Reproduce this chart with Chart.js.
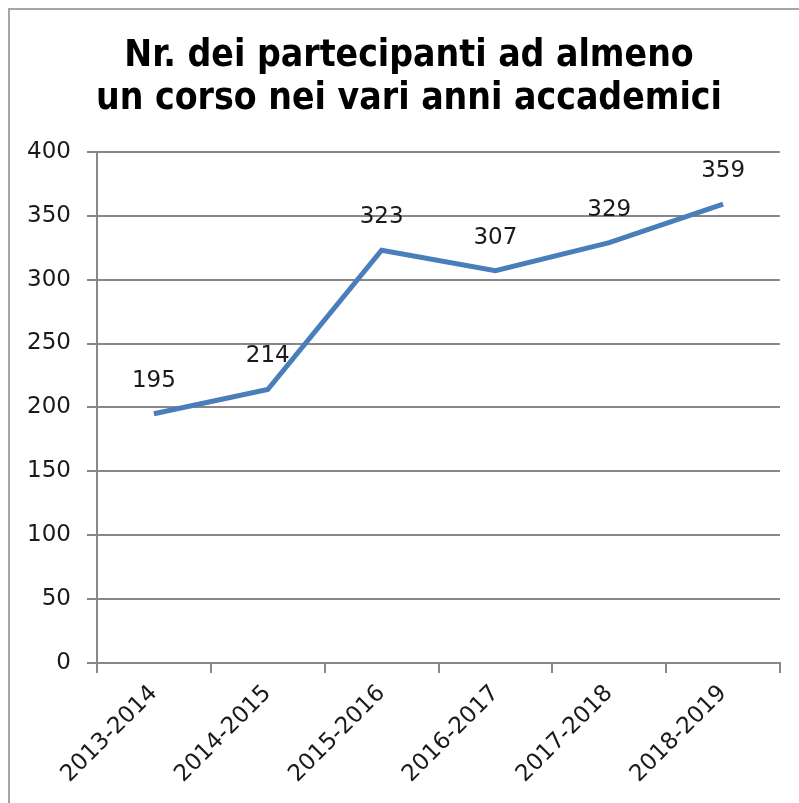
<!DOCTYPE html>
<html>
<head>
<meta charset="utf-8">
<script src="https://cdn.jsdelivr.net/npm/chart.js@4/dist/chart.umd.min.js"></script>
<style>
  body { margin: 0; background: #fff; }
  #wrap { position: relative; width: 799px; height: 803px; }
  #frame { position: absolute; left: 8px; top: 8px; right: 0; bottom: 0;
           border-top: 2px solid #a6a6a6; border-left: 2px solid #a6a6a6; pointer-events: none; }
</style>
</head>
<body>
<div id="wrap">
  <canvas id="chart" width="799" height="803"></canvas>
  <div id="frame"></div>
</div>
<script>
const anni = ['2013-2014', '2014-2015', '2015-2016', '2016-2017', '2017-2018', '2018-2019'];
const partecipanti = [195, 214, 323, 307, 329, 359];
const titolo = ['Nr. dei partecipanti ad almeno', 'un corso nei vari anni accademici'];

const tickFont = { family: "'DejaVu Sans', sans-serif", size: 23 };
const gridColor = '#888888';

// etichette dei valori sopra i punti
const valueLabels = {
  id: 'valueLabels',
  afterLayout(chart) {
    // il titolo nell'originale e' centrato un po' piu' a destra
    if (chart.titleBlock) chart.titleBlock.left += 28;
  },
  afterDatasetsDraw(chart) {
    const ctx = chart.ctx;
    const meta = chart.getDatasetMeta(0);
    ctx.save();
    ctx.font = "23px 'DejaVu Sans', sans-serif";
    ctx.fillStyle = '#1a1a1a';
    ctx.textAlign = 'center';
    ctx.textBaseline = 'middle';
    meta.data.forEach((pt, i) => {
      ctx.fillText(String(partecipanti[i]), pt.x, pt.y - 33);
    });
    ctx.restore();
  }
};

new Chart(document.getElementById('chart'), {
  type: 'line',
  data: {
    labels: anni,
    datasets: [{
      data: partecipanti,
      borderColor: '#4a7ebb',
      borderWidth: 5,
      pointRadius: 0,
      tension: 0,
      fill: false
    }]
  },
  options: {
    responsive: false,
    animation: false,
    layout: { padding: { left: 10, right: 19, top: 0, bottom: 0 } },
    plugins: {
      legend: { display: false },
      tooltip: { enabled: false },
      title: {
        display: true,
        text: titolo,
        color: '#000',
        font: { family: "'DejaVu Sans Condensed', sans-serif", size: 37, weight: 'bold', lineHeight: 1.16 },
        padding: { top: 35, bottom: 31 }
      }
    },
    scales: {
      x: {
        offset: true,
        grid: { display: true, drawOnChartArea: false, offset: true, color: gridColor, lineWidth: 2, tickLength: 10 },
        border: { display: true, color: gridColor, width: 2 },
        ticks: { color: '#1a1a1a', font: tickFont, minRotation: 45, maxRotation: 45, padding: 7 },
        afterFit(scale) { scale.height = 140; }
      },
      y: {
        min: 0,
        max: 400,
        ticks: { stepSize: 50, color: '#1a1a1a', font: tickFont, padding: 16 },
        grid: { color: gridColor, lineWidth: 2, tickLength: 10 },
        border: { display: true, color: gridColor, width: 2 },
        afterFit(scale) { scale.width = 87; }
      }
    }
  },
  plugins: [valueLabels]
});
</script>
</body>
</html>
